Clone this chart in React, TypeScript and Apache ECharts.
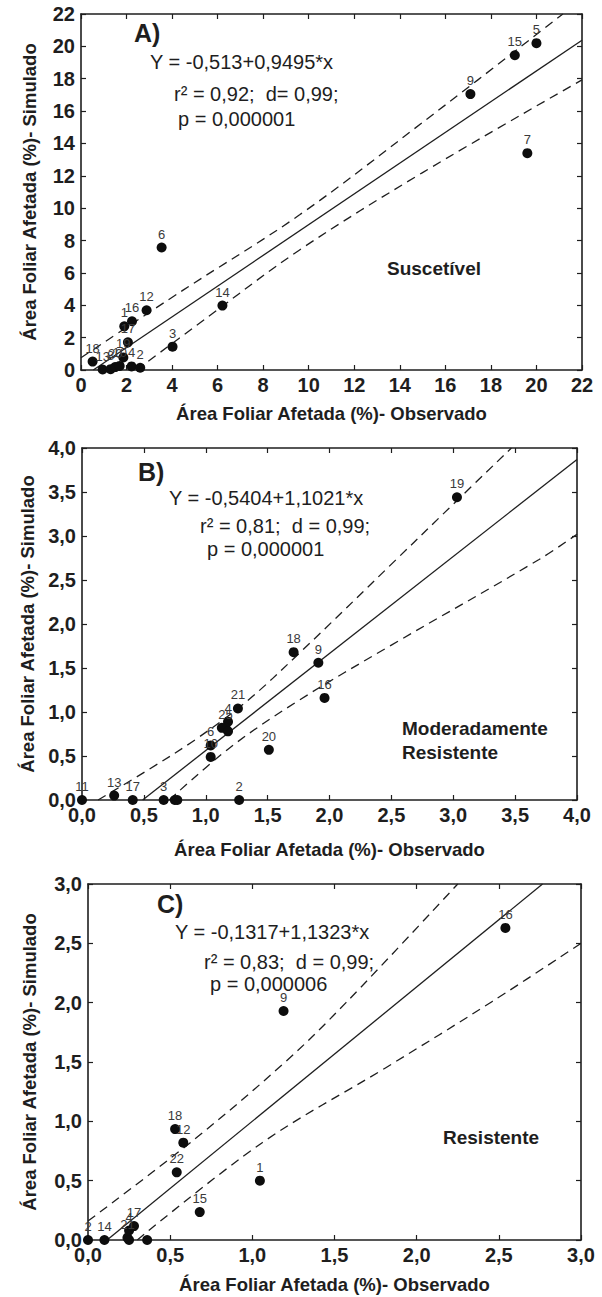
import React, { useEffect, useRef } from "react";
import * as echarts from "echarts";

const FONT = '"Liberation Sans", Arial, Helvetica, sans-serif';

// ---------- Panel A (Suscetível) ----------
const ticksA = ["0", "2", "4", "6", "8", "10", "12", "14", "16", "18", "20", "22"];
const pointsA: [number, number, string][] = [
  [20.0, 20.2, "5"],
  [19.05, 19.45, "15"],
  [17.1, 17.05, "9"],
  [19.6, 13.4, "7"],
  [3.54, 7.57, "6"],
  [6.21, 3.98, "14"],
  [2.88, 3.69, "12"],
  [2.24, 3.01, "16"],
  [1.9, 2.7, "1"],
  [2.06, 1.71, "17"],
  [4.02, 1.44, "3"],
  [0.51, 0.52, "18"],
  [1.86, 0.78, "19"],
  [0.95, 0.03, "13"],
  [1.3, 0.05, "8"],
  [1.5, 0.18, "20"],
  [1.7, 0.25, "10"],
  [2.22, 0.22, "4"],
  [2.6, 0.14, "2"],
];
const fitA: [number, number][] = [[0.54, 0], [22, 20.38]];
const upperA: [number, number][] = [[0, 0.76], [4.5, 4.95], [9.6, 9.59], [15.0, 15.3], [21.16, 22]];
const lowerA: [number, number][] = [[2.44, 0], [5.5, 3.2], [9.6, 7.42], [15.0, 12.2], [22, 17.93]];

// ---------- Panel B (Moderadamente Resistente) ----------
const ticksB = ["0,0", "0,5", "1,0", "1,5", "2,0", "2,5", "3,0", "3,5", "4,0"];
const pointsB: [number, number, string][] = [
  [3.03, 3.44, "19"],
  [1.71, 1.68, "18"],
  [1.91, 1.56, "9"],
  [1.96, 1.16, "16"],
  [1.26, 1.04, "21"],
  [1.18, 0.89, "4"],
  [1.16, 0.82, "25"],
  [1.13, 0.82, ""],
  [1.18, 0.78, ""],
  [1.04, 0.62, "6"],
  [1.04, 0.49, "10"],
  [1.51, 0.57, "20"],
  [0.0, 0.0, "11"],
  [0.26, 0.05, "13"],
  [0.41, 0.0, "17"],
  [0.66, 0.0, "3"],
  [0.75, 0.0, ""],
  [0.77, 0.0, ""],
  [1.27, 0.0, "2"],
];
const fitB: [number, number][] = [[0.49, 0], [4.0, 3.87]];
const upperB: [number, number][] = [[0.13, 0], [0.52, 0.33], [0.92, 0.69], [1.33, 1.12], [1.75, 1.66], [2.53, 2.72], [2.94, 3.28], [3.47, 4.0]];
const lowerB: [number, number][] = [[0.705, 0], [1.2, 0.6], [1.75, 1.13], [2.5, 1.76], [3.69, 2.73], [4.0, 3.02]];

// ---------- Panel C (Resistente) ----------
const ticksC = ["0,0", "0,5", "1,0", "1,5", "2,0", "2,5", "3,0"];
const pointsC: [number, number, string][] = [
  [2.54, 2.63, "16"],
  [1.19, 1.93, "9"],
  [0.53, 0.935, "18"],
  [0.58, 0.82, "12"],
  [0.54, 0.57, "22"],
  [1.046, 0.5, "1"],
  [0.68, 0.235, "15"],
  [0.28, 0.117, "17"],
  [0.25, 0.08, "4"],
  [0.24, 0.02, "21"],
  [0.25, 0.0, ""],
  [0.0, 0.0, "2"],
  [0.1, 0.0, "14"],
  [0.36, 0.0, ""],
];
const fitC: [number, number][] = [[0.116, 0], [2.766, 3.0]];
const upperC: [number, number][] = [[0, 0.16], [0.64, 0.84], [1.2, 1.5], [1.57, 2.0], [2.25, 3.0]];
const lowerC: [number, number][] = [[0.3, 0], [1.06, 0.82], [1.81, 1.45], [2.46, 2.01], [3.0, 2.5]];

const xTitle = "Área Foliar Afetada (%)- Observado";
const yTitle = "Área Foliar Afetada (%)- Simulado";

const panels = [
  {
    grid: { left: 81, top: 14, width: 501, height: 356 },
    max: 22, interval: 2, ticks: ticksA, points: pointsA, fit: fitA, upper: upperA, lower: lowerA,
    xNameGap: 34, yNameGap: 42,
    texts: [
      { t: "A)", x: 134, y: 33, bold: true, size: 25 },
      { t: "Y = -0,513+0,9495*x", x: 150, y: 62, size: 20 },
      { t: "r² = 0,92;  d= 0,99;", x: 174, y: 94, size: 20 },
      { t: "p = 0,000001", x: 178, y: 119, size: 20 },
      { t: "Suscetível", x: 387, y: 268, bold: true, size: 19 },
    ],
  },
  {
    grid: { left: 82, top: 448, width: 495, height: 352 },
    max: 4, interval: 0.5, ticks: ticksB, points: pointsB, fit: fitB, upper: upperB, lower: lowerB,
    xNameGap: 40, yNameGap: 43,
    texts: [
      { t: "B)", x: 138, y: 472, bold: true, size: 25 },
      { t: "Y = -0,5404+1,1021*x", x: 169, y: 498, size: 20 },
      { t: "r² = 0,81;  d = 0,99;", x: 200, y: 526, size: 20 },
      { t: "p = 0,000001", x: 207, y: 549, size: 20 },
      { t: "Moderadamente", x: 402, y: 728, bold: true, size: 19 },
      { t: "Resistente", x: 402, y: 752, bold: true, size: 19 },
    ],
  },
  {
    grid: { left: 88, top: 884, width: 493, height: 356 },
    max: 3, interval: 0.5, ticks: ticksC, points: pointsC, fit: fitC, upper: upperC, lower: lowerC,
    xNameGap: 35, yNameGap: 49,
    texts: [
      { t: "C)", x: 157, y: 904, bold: true, size: 25 },
      { t: "Y = -0,1317+1,1323*x", x: 175, y: 932, size: 20 },
      { t: "r² = 0,83;  d = 0,99;", x: 204, y: 962, size: 20 },
      { t: "p = 0,000006", x: 210, y: 984, size: 20 },
      { t: "Resistente", x: 443, y: 1137, bold: true, size: 19 },
    ],
  },
];

const INK = "#1e1e1e";

export default function App() {
  const ref = useRef<HTMLDivElement>(null);
  useEffect(() => {
    document.body.style.margin = "0";
    if (!ref.current) return;
    const chart = echarts.init(ref.current, undefined, { renderer: "svg" });

    const grids: any[] = [];
    const xAxes: any[] = [];
    const yAxes: any[] = [];
    const series: any[] = [];
    const graphics: any[] = [];

    panels.forEach((p, i) => {
      grids.push({ ...p.grid, containLabel: false });
      const fmt = (v: number) => p.ticks[Math.round(v / p.interval)] ?? "";
      const axisLine = { show: true, onZero: false, lineStyle: { color: INK, width: 1.6 } };
      const axisTick = { show: true, inside: true, length: 5, lineStyle: { color: INK, width: 1.2 } };
      const label = { fontFamily: FONT, fontWeight: "bold", fontSize: 20, color: INK, formatter: fmt };
      xAxes.push({
        gridIndex: i, type: "value", min: 0, max: p.max, interval: p.interval, position: "bottom",
        axisLine, axisTick, splitLine: { show: false },
        axisLabel: { ...label, margin: 5 },
        name: xTitle, nameLocation: "middle", nameGap: p.xNameGap,
        nameTextStyle: { fontFamily: FONT, fontWeight: "bold", fontSize: 18.5, color: INK },
      });
      xAxes.push({
        gridIndex: i, type: "value", min: 0, max: p.max, interval: p.interval, position: "top",
        axisLine, axisTick, splitLine: { show: false }, axisLabel: { show: false },
      });
      yAxes.push({
        gridIndex: i, type: "value", min: 0, max: p.max, interval: p.interval, position: "left",
        axisLine, axisTick, splitLine: { show: false },
        axisLabel: { ...label, margin: 6 },
        name: yTitle, nameLocation: "middle", nameGap: p.yNameGap, nameRotate: 90,
        nameTextStyle: { fontFamily: FONT, fontWeight: "bold", fontSize: 18.5, color: INK },
      });
      yAxes.push({
        gridIndex: i, type: "value", min: 0, max: p.max, interval: p.interval, position: "right",
        axisLine, axisTick, splitLine: { show: false }, axisLabel: { show: false },
      });

      const lineBase = { type: "line", xAxisIndex: 2 * i, yAxisIndex: 2 * i, showSymbol: false, symbol: "none", clip: true, silent: true, z: 2 };
      series.push({ ...lineBase, data: p.fit, lineStyle: { color: INK, width: 1.3, type: "solid" } });
      series.push({ ...lineBase, smooth: 0.35, data: p.upper, lineStyle: { color: INK, width: 1.3, type: [9, 6] } });
      series.push({ ...lineBase, smooth: 0.35, data: p.lower, lineStyle: { color: INK, width: 1.3, type: [9, 6] } });
      series.push({
        type: "scatter", xAxisIndex: 2 * i, yAxisIndex: 2 * i, clip: false, z: 3,
        symbol: "circle", symbolSize: 10,
        itemStyle: { color: "#0d0d0d", opacity: 1 },
        data: p.points,
        label: {
          show: true, position: "top", distance: 2,
          formatter: (d: any) => d.value[2],
          fontFamily: FONT, fontSize: 13, color: "#3a3a3a",
        },
      });

      p.texts.forEach((t) => {
        graphics.push({
          type: "text", x: t.x, y: t.y, silent: true,
          style: {
            text: t.t, fill: INK, align: "left", verticalAlign: "middle",
            font: `${t.bold ? "bold " : ""}${t.size}px ${FONT}`,
          },
        });
      });
    });

    chart.setOption({
      animation: false,
      backgroundColor: "#ffffff",
      grid: grids,
      xAxis: xAxes,
      yAxis: yAxes,
      series,
      graphic: graphics,
    });
    return () => chart.dispose();
  }, []);
  return <div ref={ref} style={{ width: 602, height: 1297 }} />;
}
